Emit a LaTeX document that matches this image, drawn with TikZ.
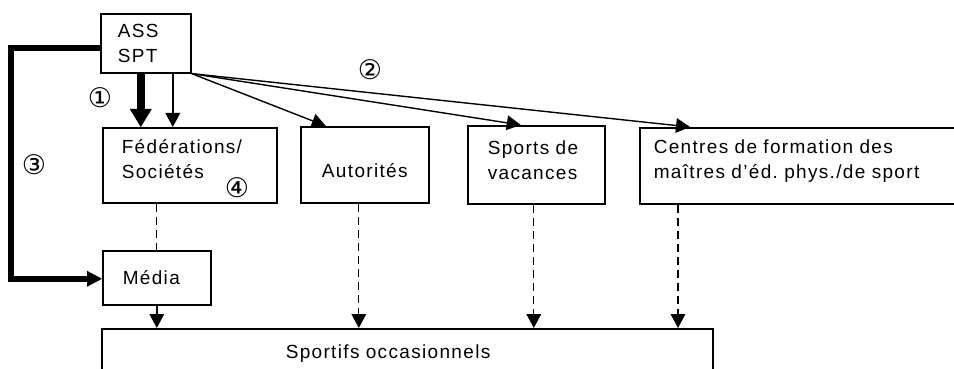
\documentclass[tikz,border=0pt]{standalone}
\usepackage{fontspec}
\setmainfont{Liberation Sans}[LetterSpace=7]
\newfontfamily\circfont{DejaVu Sans}
\usetikzlibrary{arrows.meta}
\frenchspacing

\tikzset{
    box/.style={draw, line width=1.6pt, inner ysep=0pt, align=left, anchor=north west,
        font=\fontsize{19}{25}\selectfont},
    link/.style={line width=1.4pt, -{Triangle[width=15pt,length=14pt,line width=0pt]}},
    bigarrow/.style={line width=8pt, -{Triangle[width=22pt,length=18pt,line width=0pt]}},
    mainline/.style={line width=5.5pt, -{Triangle[width=16pt,length=15pt,line width=0pt]}},
    soft/.style={line width=1.2pt, dash pattern=on 8pt off 5pt},
    num/.style={font=\circfont\fontsize{27}{27}\selectfont, inner sep=0pt}
}

\begin{document}
\begin{tikzpicture}[x=1pt, y=-1pt]
        \useasboundingbox (0,0) rectangle (954,369);
        \clip (0,0) rectangle (954,369);

        % boxes
        \node[box, text width=56pt, inner xsep=17pt, text height=24pt, text depth=35pt] (ass) at (100,13) {ASS\\SPT};
        \node[box, text width=136pt, inner xsep=19pt, text height=26pt, text depth=49pt] (fed) at (102,127) {Fédérations/\\Sociétés};
        \node[box, align=center, text width=120pt, inner xsep=4pt, text height=51pt, text depth=25pt] (aut) at (300,126) {Autorités};
        \node[box, text width=97pt, inner xsep=20pt, text height=29pt, text depth=49pt] (vac) at (467,125) {Sports de\\vacances};
        \node[box, text width=302pt, inner xsep=14pt, text height=26pt, text depth=50pt] (cen) at (639,127) {Centres de formation des\\maîtres d’éd. phys./de sport};
        \node[box, text width=68pt, inner xsep=20pt, text height=34pt, text depth=20pt] (med) at (102,250) {Média};
        \node[box, text width=243pt, inner xsep=184pt, text height=30pt, text depth=22pt] (spo) at (101,328) {Sportifs occasionnels};

        % arrows from ASS SPT
        \draw[bigarrow] ([xshift=-5pt]ass.south) -- ([xshift=-5pt]ass.south |- fed.north);
        \draw[link] ([xshift=27pt]ass.south) -- ([xshift=27pt]ass.south |- fed.north);
        \draw[link] (ass.south east) -- ([xshift=-39pt]aut.north);
        \draw[link] (ass.south east) -- ([xshift=-15.5pt]vac.north);
        \draw[link] (ass.south east) -- ([xshift=51pt]cen.north west);
        \coordinate (bend) at (11,160);
        \draw[mainline] ([yshift=-4.5pt]ass.west) -| (bend) |- ([yshift=-1pt]med.west);

        % down to the Sportifs
        \draw[soft] (med.north |- fed.south) -- (med.north);
        \draw[link] (med.south) -- (med.south |- spo.north);
        \draw[link, soft] ([xshift=-6pt]aut.south) -- ([xshift=-6pt]aut.south |- spo.north);
        \draw[link, soft] ([xshift=-2.5pt]vac.south) -- ([xshift=-2.5pt]vac.south |- spo.north);
        \draw[link, soft] ([xshift=39pt]cen.south west) -- ([xshift=39pt]cen.south west |- spo.north);

        % numbers
        \node[num] (n1) at (100,98) {①};
        \node[num] (n2) at (370,70) {②};
        \node[num] (n3) at (34,165) {③};
        \node[num] (n4) at (237,188) {④};
\end{tikzpicture}
\end{document}
